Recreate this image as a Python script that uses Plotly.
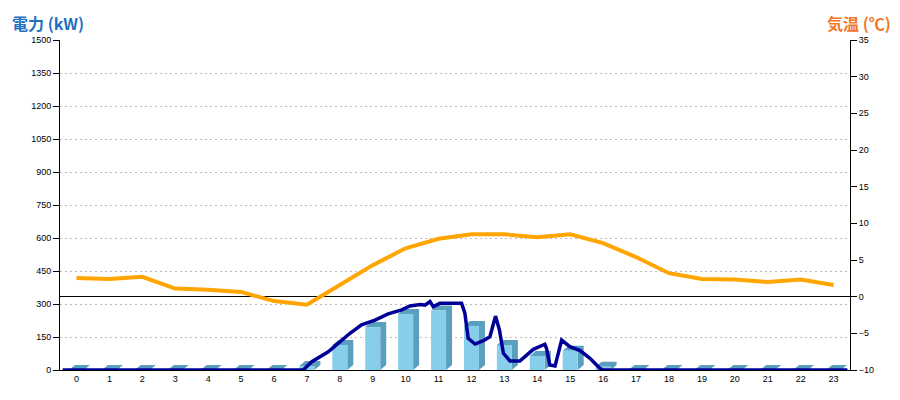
import plotly.graph_objects as go

# ---- data ----
hours = list(range(24))
hour_labels = [str(h) for h in hours]
power_hourly = [0, 0, 0, 0, 0, 0, 0, 18, 114, 195, 255, 270, 200, 114, 64, 88, 15, 0, 0, 0, 0, 0, 0, 0]
temp_hourly = [2.55, 2.4, 2.7, 1.1, 0.95, 0.65, -0.6, -1.1, 1.6, 4.3, 6.6, 7.9,
               8.5, 8.5, 8.1, 8.5, 7.3, 5.4, 3.2, 2.4, 2.35, 2.0, 2.35, 1.6]
power_time = [0.08, 7.39, 7.65, 8.15, 8.45, 8.81, 9.16, 9.57, 9.97, 10.38, 10.63, 10.94,
              11.09, 11.24, 11.34, 11.54, 12.2, 12.3, 12.4, 12.61, 12.86, 13.06, 13.23,
              13.35, 13.47, 13.67, 13.97, 14.18, 14.38, 14.73, 14.78, 14.88, 15.04, 15.24,
              15.49, 15.8, 16.1, 16.4, 16.5, 23.92]
power_kw = [0, 0, 38, 83, 121, 167, 205, 227, 255, 273, 291, 298,
            295, 311, 288, 303, 303, 258, 144, 118, 133, 151, 245,
            182, 76, 41, 41, 68, 94, 117, 98, 23, 18, 136,
            106, 88, 53, 8, 0, 0]
kw_ticks = list(range(0, 1501, 150))
temp_ticks = list(range(-10, 36, 5))

# ---- styling ----
BAR_W = 0.456
DEPTH_X = 0.182
DEPTH_Y = 22.7
FONT = "Liberation Sans, DejaVu Sans, sans-serif"
CJK = "Noto Sans CJK JP, sans-serif"

# side / top faces of the 3D bars
px, py = [], []
for h, v in zip(hours, power_hourly):
    x0, x1 = h - BAR_W / 2, h + BAR_W / 2
    px += [x0, x0 + DEPTH_X, x1 + DEPTH_X, x1 + DEPTH_X, x1, x1, x0, None]
    py += [v, v + DEPTH_Y, v + DEPTH_Y, DEPTH_Y, 0, v, v, None]

fig = go.Figure()
fig.add_trace(go.Scatter(x=px, y=py, mode="lines", fill="toself", fillcolor="#5B9FBF",
                         line=dict(width=0), xaxis="x", yaxis="y", hoverinfo="skip"))
fig.add_trace(go.Bar(x=hours, y=power_hourly, width=BAR_W, marker=dict(color="#87CEEB", line=dict(width=0)),
                     xaxis="x2", yaxis="y"))
fig.add_trace(go.Scatter(x=power_time, y=power_kw, mode="lines",
                         line=dict(color="#000099", width=3.5), xaxis="x3", yaxis="y"))
fig.add_trace(go.Scatter(x=hours, y=temp_hourly, mode="lines",
                         line=dict(color="#FFA500", width=4), xaxis="x", yaxis="y2"))

fig.update_layout(
    width=892, height=392,
    margin=dict(l=52, r=50, t=32, b=30),
    paper_bgcolor="white", plot_bgcolor="white",
    showlegend=False,
    xaxis=dict(range=[-0.5, 23.5], tickmode="array", tickvals=hours, ticktext=hour_labels,
               showgrid=False, zeroline=False, showline=True, linecolor="black", linewidth=1,
               ticks="", tickfont=dict(family=FONT, size=9, color="black")),
    xaxis2=dict(range=[-0.5, 23.5], overlaying="x", visible=False),
    xaxis3=dict(range=[0, 24], overlaying="x", visible=False),
    yaxis=dict(range=[0, 1500], tickmode="array", tickvals=kw_ticks,
               showgrid=True, gridcolor="#BBBBBB", griddash="2px,3px", gridwidth=1,
               zeroline=False, showline=True, linecolor="black", linewidth=1,
               ticks="outside", ticklen=6, tickcolor="black",
               tickfont=dict(family=FONT, size=9, color="black")),
    yaxis2=dict(range=[-10, 35], tickmode="array", tickvals=temp_ticks, overlaying="y", side="right",
                showgrid=False, zeroline=True, zerolinecolor="black", zerolinewidth=1,
                showline=True, linecolor="black", linewidth=1,
                ticks="outside", ticklen=6, tickcolor="black",
                tickfont=dict(family=FONT, size=9, color="black")),
    annotations=[
        dict(text="<b>電力 (kW)</b>", xref="paper", yref="paper", x=-0.0633, y=1.094,
             xanchor="left", yanchor="top", showarrow=False,
             font=dict(family=CJK, size=16, color="#1E70C0")),
        dict(text="<b>気温 (℃)</b>", xref="paper", yref="paper", x=1.0544, y=1.094,
             xanchor="right", yanchor="top", showarrow=False,
             font=dict(family=CJK, size=16, color="#F07828")),
    ],
)

fig.write_html("out.html")
